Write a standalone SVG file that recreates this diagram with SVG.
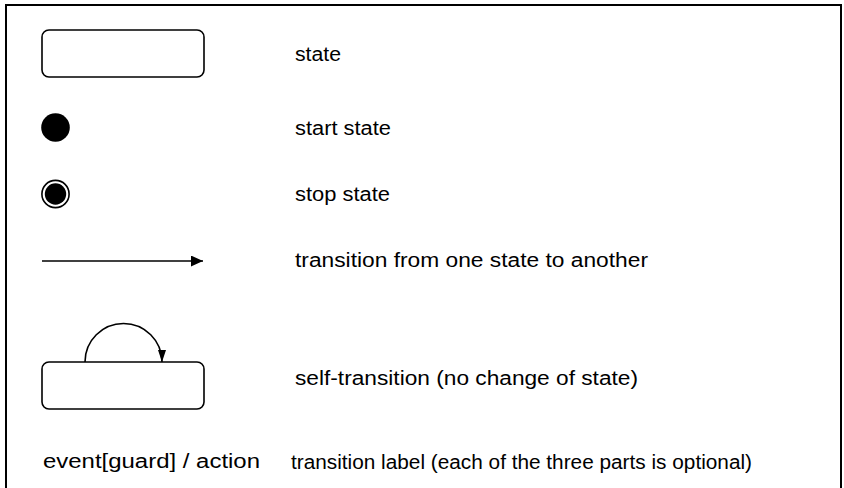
<svg xmlns="http://www.w3.org/2000/svg" width="844" height="488" viewBox="0 0 844 488">
<defs>
<style>
.box{fill:#fff;stroke:#000;stroke-width:1.6}
.ln{fill:none;stroke:#000;stroke-width:1.6}
.lbl{font-family:"Liberation Sans",Arial,sans-serif;font-size:20px;fill:#000}
</style>
<marker id="ah" markerUnits="userSpaceOnUse" markerWidth="14" markerHeight="12" refX="12" refY="5.5" orient="auto">
<path d="M0,0 L12,5.5 L0,11 Z" fill="#000"/>
</marker>
<marker id="ah2" markerUnits="userSpaceOnUse" markerWidth="14" markerHeight="10" refX="12" refY="4" orient="auto">
<path d="M0,0 L12,4 L0,8 Z" fill="#000"/>
</marker>
</defs>
<rect width="844" height="488" fill="#fff"/>
<path d="M6,500 L6,5 L841,5 L841,500" fill="none" stroke="#000" stroke-width="2"/>
<g id="state">
<rect class="box" x="42" y="30" width="162" height="47" rx="7"/>
<text class="lbl" x="295" y="61" textLength="46" lengthAdjust="spacingAndGlyphs">state</text>
</g>
<g id="start-state">
<circle cx="55.5" cy="127.5" r="14.3" fill="#000"/>
<text class="lbl" x="295" y="135" textLength="96" lengthAdjust="spacingAndGlyphs">start state</text>
</g>
<g id="stop-state">
<circle cx="55.5" cy="194" r="13.6" fill="#fff" stroke="#000" stroke-width="1.6"/>
<circle cx="55.5" cy="194" r="10.7" fill="#000"/>
<text class="lbl" x="295" y="201" textLength="95" lengthAdjust="spacingAndGlyphs">stop state</text>
</g>
<g id="transition">
<text class="lbl" x="295" y="267" textLength="353" lengthAdjust="spacingAndGlyphs">transition from one state to another</text>
</g>
<g id="self-transition">
<rect class="box" x="42" y="362" width="162" height="47" rx="7"/>
<text class="lbl" x="295" y="385" textLength="343" lengthAdjust="spacingAndGlyphs">self-transition (no change of state)</text>
</g>
<g id="transition-label">
<text class="lbl" x="43" y="468" textLength="217" lengthAdjust="spacingAndGlyphs">event[guard] / action</text>
<text class="lbl" x="291" y="469" textLength="461" lengthAdjust="spacingAndGlyphs">transition label (each of the three parts is optional)</text>
</g>
<g id="connectors">
<line class="ln" x1="42" y1="261" x2="203" y2="261" marker-end="url(#ah)"/>
<path class="ln" d="M85,362 A38.5,38.5 0 0 1 162,362" marker-end="url(#ah2)"/>
</g>
</svg>
